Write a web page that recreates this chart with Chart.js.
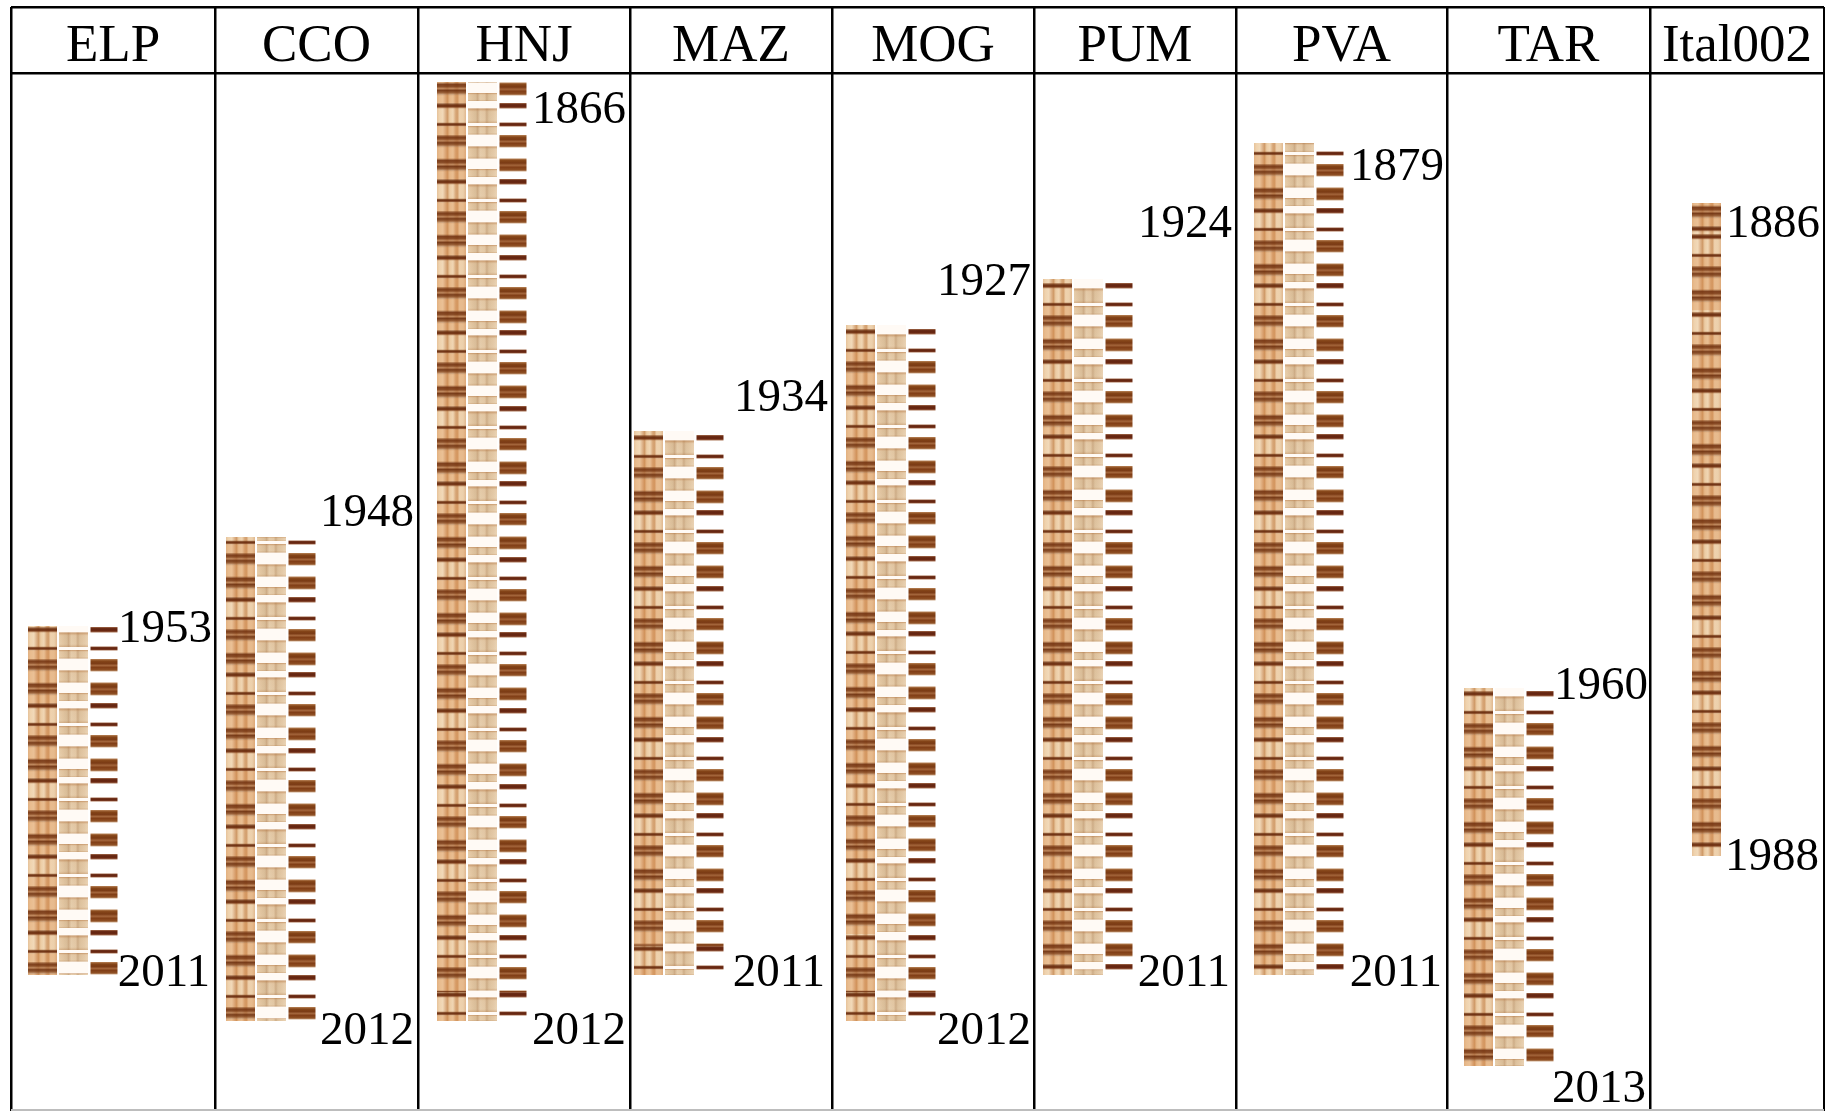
<!DOCTYPE html>
<html>
<head>
<meta charset="utf-8">
<style>html,body{margin:0;padding:0;background:#fff}canvas{display:block}</style>
<script src="https://cdn.jsdelivr.net/npm/chart.js@4"></script>
</head>
<body>
<canvas id="c" width="1825" height="1111"></canvas>
<script>
// ---- values ----
const panelNames = ['ELP','CCO','HNJ','MAZ','MOG','PUM','PVA','TAR','Ital002'];
const firstYears = [1953,1948,1866,1934,1927,1924,1879,1960,1886];
const lastYears  = [2011,2012,2012,2011,2012,2011,2011,2013,1988];
const panelEdges = [11,215,418,630,832,1034,1236,1447,1650,1824];
const headerRules = [7,73];
const footerRule = 1110;
const coreLeft   = [28,226,437,634,846,1043,1254,1464,1692];
const coreTop    = [626,537,82,431,325,279,143,688,203];
const coreBottom = [975,1021,1021,975,1021,975,975,1066,856];
const stripCount = [3,3,3,3,3,3,3,3,1];
// where each repeat of the ring sequence begins, along each core
const cycleELP  = [627,703,778,854,930];
const cycleCCO  = [521,597,672,748,824,899,975];
const cycleHNJ  = [27,103,179,255,330,406,481,557,632,708,784,859,935,992];
const cycleMAZ  = [435,510,586,661,737,813,888,946];
const cycleMOG  = [329,405,480,556,631,707,783,858,935,992];
const cyclePUM  = [283,359,434,510,586,661,737,813,888,964];
const cyclePVA  = [132,208,283,359,434,510,586,661,737,813,888,964];
const cycleTAR  = [691,766,842,917,993];
const cycleItal = [150,226,234,312,388,463,539,615,690,766,842];
const cycles = [cycleELP,cycleCCO,cycleHNJ,cycleMAZ,cycleMOG,cyclePUM,cyclePVA,cycleTAR,cycleItal];
// ring offsets inside one repeat
const thinLateBand  = [0,5.5];
const thinNextBand  = [19.5,23.5];
const wideBandOne   = [32,44.5];
const wideBandTwo   = [55.5,68.5];
const paleBlocks    = [[5.5,20],[43.5,55.5]];
const warmBlocks    = [[23,31.5],[66,74]];
const warmZones     = [[23.5,32.5],[44,56],[68,76]];
// ---- layout of the three strips ----
const stripShift = [14.5, 45.5, 76];
const stripWidth = [29, 29, 27];
const barDefaults = {grouped:false, borderWidth:0, inflateAmount:0};

function columns(strip){
  const out=[];
  panelNames.forEach((n,i)=>{ if(strip<stripCount[i]) out.push(i); });
  return out;
}
function fullStrip(strip){
  return columns(strip).map(i=>({x:coreLeft[i]+stripShift[strip], y:[coreTop[i],coreBottom[i]]}));
}
function bands(strip, offs){
  const out=[];
  columns(strip).forEach(i=>{
    const st=cycles[i];
    st.forEach((s,k)=>{
      const limit=Math.min(k+1<st.length?st[k+1]:Infinity, coreBottom[i]);
      const a=Math.max(s+offs[0],coreTop[i]), b=Math.min(s+offs[1],limit);
      if(b>a) out.push({x:coreLeft[i]+stripShift[strip], y:[a,b]});
    });
  });
  return out;
}
function bandsMany(strip, list){ return list.flatMap(o=>bands(strip,o)); }

function hGrad(stops, width){
  return c=>{
    if(!c.raw) return 'transparent';
    const px=c.chart.scales.x.getPixelForValue(c.raw.x);
    if(!isFinite(px)) return 'transparent';
    const g=c.chart.ctx.createLinearGradient(px-width/2,0,px+width/2,0);
    stops.forEach(s=>g.addColorStop(s[0],s[1]));
    return g;
  };
}
function vGrad(stops){
  return c=>{
    if(!c.raw) return 'transparent';
    const s=c.chart.scales.y;
    const a=s.getPixelForValue(c.raw.y[0]), b=s.getPixelForValue(c.raw.y[1]);
    if(!isFinite(a)||!isFinite(b)) return 'transparent';
    const g=c.chart.ctx.createLinearGradient(0,a,0,b);
    stops.forEach(t=>g.addColorStop(t[0],t[1]));
    return g;
  };
}
const woodStops=[[0,'#e6c29a'],[.08,'#efd2ad'],[.2,'#f1d9b9'],[.3,'#dcb086'],[.36,'#cf9a68'],[.44,'#eccca4'],[.55,'#f0d6b4'],[.64,'#d9aa7c'],[.7,'#d19c6a'],[.78,'#efd2ae'],[.9,'#ecd0ac'],[1,'#e0b78e']];
const paleStops=[[0,'#ebd6b6'],[.12,'#e6cdab'],[.27,'#dcc3a0'],[.33,'#cfb08c'],[.42,'#e9d4b5'],[.58,'#e6cead'],[.65,'#cfb18d'],[.72,'#e0c8a6'],[.88,'#e8d1b1'],[1,'#eedbbf']];
const thinDark=[[0,'rgba(130,65,25,.35)'],[.35,'rgba(100,40,10,.92)'],[.65,'rgba(110,45,14,.92)'],[1,'rgba(140,75,35,.3)']];
const wideDark=[[0,'rgba(150,85,40,.45)'],[.16,'rgba(115,50,15,.92)'],[.32,'rgba(125,60,22,.88)'],[.46,'rgba(170,105,60,.72)'],[.62,'rgba(110,48,14,.92)'],[.8,'rgba(135,72,32,.8)'],[1,'rgba(180,120,75,.2)']];
const rightThin=[[0,'#a36b4c'],[.3,'#642510'],[.7,'#6a2812'],[1,'#ab7658']];
const rightWide=[[0,'#b98458'],[.16,'#864619'],[.35,'#7a3a14'],[.52,'#a2643a'],[.68,'#823f17'],[.88,'#8f5024'],[1,'#cfad8f']];
const edgeStops=[[0,'rgba(170,100,45,.55)'],[.22,'rgba(190,130,75,.12)'],[.8,'rgba(190,130,75,.08)'],[1,'rgba(170,110,60,.35)']];

// Chart.js paints the first dataset last, so the layers are listed top first
const datasets=[
  // right strip: dark bands only
  {label:'rightWide',data:bandsMany(2,[wideBandOne,wideBandTwo]),barThickness:stripWidth[2],backgroundColor:vGrad(rightWide)},
  {label:'rightThin',data:bandsMany(2,[thinLateBand,thinNextBand]),barThickness:stripWidth[2],backgroundColor:vGrad(rightThin)},
  // middle strip: pale blocks on white
  {label:'midEdge',data:bandsMany(1,paleBlocks.concat(warmBlocks)),barThickness:stripWidth[1],backgroundColor:vGrad(edgeStops)},
  {label:'midWarm',data:bandsMany(1,warmBlocks),barThickness:stripWidth[1],backgroundColor:hGrad(paleStops,stripWidth[1])},
  {label:'midPale',data:bandsMany(1,paleBlocks),barThickness:stripWidth[1],backgroundColor:hGrad(paleStops,stripWidth[1])},
  {label:'midBase',data:fullStrip(1),barThickness:stripWidth[1],backgroundColor:'#fffaf5'},
  // left strip: continuous wood with dark bands
  {label:'wide',data:bandsMany(0,[wideBandOne,wideBandTwo]),barThickness:stripWidth[0],backgroundColor:vGrad(wideDark)},
  {label:'late',data:bandsMany(0,[thinLateBand,thinNextBand]),barThickness:stripWidth[0],backgroundColor:vGrad(thinDark)},
  {label:'warm',data:bandsMany(0,warmZones),barThickness:stripWidth[0],backgroundColor:'rgba(214,130,60,.28)'},
  {label:'wood',data:fullStrip(0),barThickness:stripWidth[0],backgroundColor:hGrad(woodStops,stripWidth[0])}
].map(d=>Object.assign({},barDefaults,d));

// year labels: right edge and baseline on the chart's own scales
const firstLabelRight = [212,414,626,828,1031,1232,1444,1648,1820];
const firstLabelBase  = [642,526,123,411,295,237,180,699,237];
const lastLabelRight  = [210,414,626,825,1031,1230,1442,1646,1819];
const lastLabelBase   = [986,1044,1044,986,1044,986,986,1102,870];
const headerBase = 61;

const textPlugin={
  id:'panelText',
  afterDatasetsDraw(chart){
    const {ctx,scales:{x,y}}=chart;
    ctx.save();
    ctx.fillStyle='#000';
    ctx.textBaseline='alphabetic';
    ctx.textAlign='center';
    ctx.font='53px "Liberation Serif"';
    panelNames.forEach((n,i)=>{
      ctx.fillText(n,(x.getPixelForValue(panelEdges[i])+x.getPixelForValue(panelEdges[i+1]))/2,y.getPixelForValue(headerBase));
    });
    ctx.textAlign='right';
    ctx.font='47px "Liberation Serif"';
    panelNames.forEach((n,i)=>{
      ctx.fillText(String(firstYears[i]),x.getPixelForValue(firstLabelRight[i]),y.getPixelForValue(firstLabelBase[i]));
      ctx.fillText(String(lastYears[i]),x.getPixelForValue(lastLabelRight[i]),y.getPixelForValue(lastLabelBase[i]));
    });
    ctx.restore();
  }
};

new Chart(document.getElementById('c'),{
  type:'bar',
  data:{datasets},
  plugins:[textPlugin],
  options:{
    responsive:false,animation:false,
    layout:{padding:{left:11,right:1,top:7,bottom:0}},
    plugins:{legend:{display:false},tooltip:{enabled:false},title:{display:false}},
    scales:{
      x:{type:'linear',min:11,max:1824,offset:false,
        border:{display:false},
        ticks:{display:false,autoSkip:false},
        grid:{color:'#000',lineWidth:2.5,drawTicks:false,offset:false},
        afterBuildTicks(s){s.ticks=panelEdges.map(v=>({value:v}));}
      },
      y:{type:'linear',min:7,max:1111,reverse:true,
        border:{display:false},
        ticks:{display:false,autoSkip:false},
        grid:{drawTicks:false,
          color:c=>c.tick&&c.tick.value===footerRule?'#bdbdbd':'#000',
          lineWidth:2.5},
        afterBuildTicks(s){s.ticks=headerRules.concat([footerRule]).map(v=>({value:v}));}
      }
    }
  }
});
</script>
</body>
</html>
